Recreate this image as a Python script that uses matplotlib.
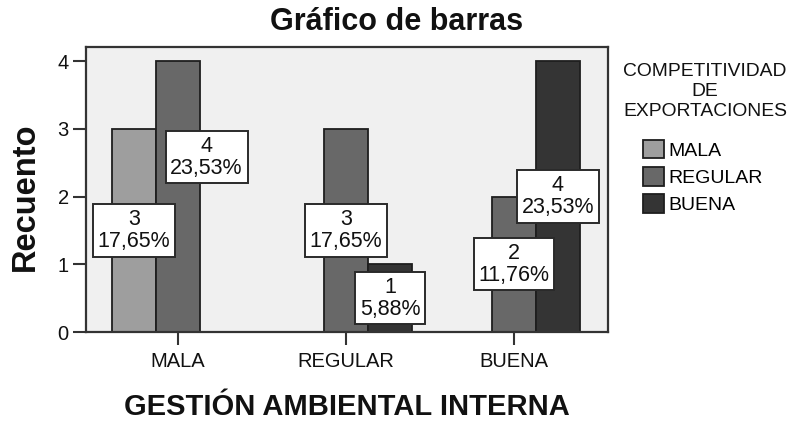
import matplotlib
matplotlib.use("Agg")
import matplotlib.pyplot as plt
from matplotlib.patches import Patch
import numpy as np

# Counts by internal environmental management (x) and export competitiveness (series)
categories = ["MALA", "REGULAR", "BUENA"]
series = ["MALA", "REGULAR", "BUENA"]
counts_mala = [3, 0, 0]
counts_regular = [4, 3, 2]
counts_buena = [0, 1, 4]
series_counts = [counts_mala, counts_regular, counts_buena]
series_colors = ["#9e9e9e", "#686868", "#343434"]

# label shifts (x in category units, y in counts) where a box was nudged aside
label_shift = {(1, 0): (0.17, 0.58)}

plt.rcParams["font.family"] = ["Liberation Sans", "DejaVu Sans"]

W, H = 793, 423
fig = plt.figure(figsize=(W / 100, H / 100), dpi=100)
ax = fig.add_axes([86 / W, 1 - 332 / H, (608 - 86) / W, (332 - 47) / H])
ax.set_facecolor("#f0f0f0")

total = sum(sum(s) for s in series_counts)
x = np.arange(len(categories))
width = 0.262
offsets = [-width, 0.0, width]

for si, (vals, col) in enumerate(zip(series_counts, series_colors)):
    for ci, v in enumerate(vals):
        if v <= 0:
            continue
        ax.bar(x[ci] + offsets[si], v, width=width, color=col,
               edgecolor="#1e1e1e", linewidth=1.3, zorder=2)

for si, vals in enumerate(series_counts):
    for ci, v in enumerate(vals):
        if v <= 0:
            continue
        dx, dy = label_shift.get((si, ci), (0.0, 0.0))
        pct = f"{100 * v / total:.2f}".replace(".", ",") + "%"
        ax.text(x[ci] + offsets[si] + dx, v / 2 + dy, f"{v}\n{pct}",
                ha="center", va="center", multialignment="center",
                fontsize=15.5, linespacing=1.05, color="#111111", zorder=4,
                bbox=dict(boxstyle="square,pad=0.22", fc="white",
                          ec="#2a2a2a", lw=1.4))

ax.set_xlim(-0.548, 2.56)
ax.set_ylim(0, 4.207)
ax.set_xticks(x)
ax.set_xticklabels(categories)
ax.set_yticks([0, 1, 2, 3, 4])
ax.tick_params(axis="both", labelsize=14.5, length=9.5, width=1.5,
               color="#333333", labelcolor="#111111")
ax.tick_params(axis="x", pad=5)
ax.tick_params(axis="y", pad=3)
for sp in ax.spines.values():
    sp.set_color("#333333")
    sp.set_linewidth(1.6)

fig.text(396.5 / W, 1 - 22 / H, "Gráfico de barras", ha="center", va="center",
         fontsize=22, fontweight="bold", color="#111111")
fig.text(347 / W, 1 - 407 / H, "GESTIÓN AMBIENTAL INTERNA", ha="center",
         va="center", fontsize=21, fontweight="bold", color="#111111")
fig.text(25 / W, 1 - 197 / H, "Recuento", ha="center", va="center",
         rotation=90, fontsize=23.5, fontweight="bold", color="#111111")

fig.text(705 / W, 1 - 63 / H, "COMPETITIVIDAD\nDE\nEXPORTACIONES",
         ha="center", va="top", multialignment="center", fontsize=13.9,
         linespacing=1.22, color="#111111")
handles = [Patch(facecolor=c, edgecolor="#1e1e1e", linewidth=1.3)
           for c in series_colors]
fig.legend(handles, series, loc="upper left",
           bbox_to_anchor=(643 / W, 1 - 140 / H), frameon=False,
           fontsize=14, handlelength=1.08, handleheight=1.08,
           handletextpad=0.2, labelspacing=0.38, borderpad=0,
           borderaxespad=0)

fig.savefig("out.png", dpi=100)
